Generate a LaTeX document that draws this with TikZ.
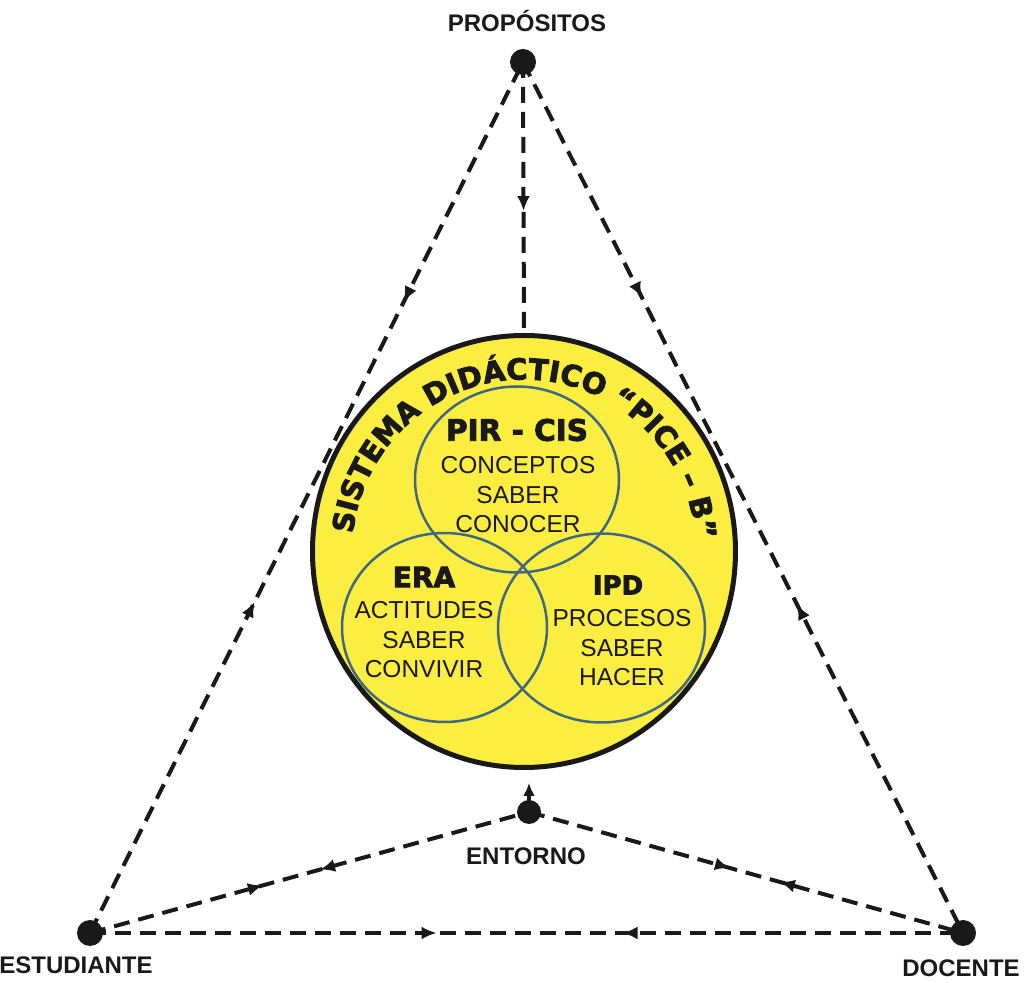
\documentclass[tikz,border=0pt]{standalone}
\usepackage{fontspec}
\setmainfont{Liberation Sans}
\newfontfamily\heavy{DejaVu Sans}[BoldFeatures={FakeBold=3}]
\usetikzlibrary{decorations.text,decorations.markings,arrows.meta,shapes.geometric}
\definecolor{circyellow}{RGB}{252,238,64}
\definecolor{ringblue}{RGB}{64,104,128}
\definecolor{ink}{RGB}{25,25,25}
\begin{document}
\begin{tikzpicture}[x=1pt,y=1pt,
  dot/.style={circle,fill=ink,inner sep=0pt,minimum size=26pt},
  link/.style={line width=4pt,dash pattern=on 16pt off 9pt,draw=ink},
  fwd/.style={postaction={decorate,decoration={markings,mark=at position #1 with {\arrow{Latex[length=15pt,width=13pt]}}}}},
  bwd/.style={postaction={decorate,decoration={markings,mark=at position #1 with {\arrowreversed{Latex[length=15pt,width=13pt]}}}}},
  lbl/.style={font=\fontsize{24}{24}\selectfont\bfseries,anchor=base,text=ink,inner sep=0pt},
  ring/.style={ellipse,draw=ringblue,line width=2.5pt,inner sep=0pt},
  body/.style={font=\fontsize{24.5}{29.5}\selectfont,align=center,text=ink,inner sep=0pt},
  head/.style={font=\heavy\bfseries\fontsize{28}{28}\selectfont,text=ink,inner sep=0pt}
]
\useasboundingbox[fill=white] (0,0) rectangle (1029,983);

% main circle
\node[ellipse,draw=ink,fill=circyellow,line width=5pt,minimum width=423pt,minimum height=432pt,inner sep=0pt] (C) at (524,431.5) {};
\node[ring,minimum width=204pt,minimum height=186pt] (top) at (517,503.5) {};
\node[ring,minimum width=205pt,minimum height=189pt] (left) at (444.5,355.5) {};
\node[ring,minimum width=207pt,minimum height=189pt] (right) at (601.5,355) {};

% arc title
\path[decorate,decoration={text along path,text align=center,
  text={|\heavy\bfseries\fontsize{29}{29}\selectfont\color{ink}|SISTEMA DIDÁCTICO “PICE – B”}}]
  (524,431.5) ++(179:172) arc[start angle=179,end angle=-1,radius=172];

% inner texts
\node[head,font=\heavy\bfseries\fontsize{29.5}{29.5}\selectfont] (h1) at (517,553) {PIR - CIS};
\node[body] (b1) at (518,488) {CONCEPTOS\\SABER\\CONOCER};
\node[head] (h2) at (424,406) {ERA};
\node[head,font=\heavy\bfseries\fontsize{26}{26}\selectfont] (h3) at (618,398) {IPD};
\node[body] (b2) at (424,343) {ACTITUDES\\SABER\\CONVIVIR};
\node[body] (b3) at (622,335) {PROCESOS\\SABER\\HACER};

% dots
\node[dot] (P) at (523,921) {};
\node[dot] (E) at (90,50) {};
\node[dot] (D) at (963,50) {};
\node[dot,minimum size=24pt] (N) at (529,171) {};
\coordinate (Nt) at (529,200);

% labels
\node[lbl] (lP) at (527,951) {PROPÓSITOS};
\node[lbl] (lE) at (76,9) {ESTUDIANTE};
\node[lbl] (lD) at (961,6) {DOCENTE};
\node[lbl] (lN) at (526,118) {ENTORNO};

% connectors
\draw[link,fwd=0.55] (P.center) -- (C.north);
\draw[link,fwd=0.38,bwd=0.725] (E.center) -- (P.center);
\draw[link,fwd=0.27,bwd=0.623] (P.center) -- (D.center);
\draw[link,fwd=0.394,bwd=0.524] (E.center) -- (N.center);
\draw[link,fwd=0.463,bwd=0.578] (N.center) -- (D.center);
\draw[link,fwd=0.397,bwd=0.61] (E.center) -- (D.center);
\draw[line width=3.5pt,draw=ink,-{Latex[length=13pt,width=12pt]}] (N.center) -- (Nt);
\end{tikzpicture}
\end{document}
